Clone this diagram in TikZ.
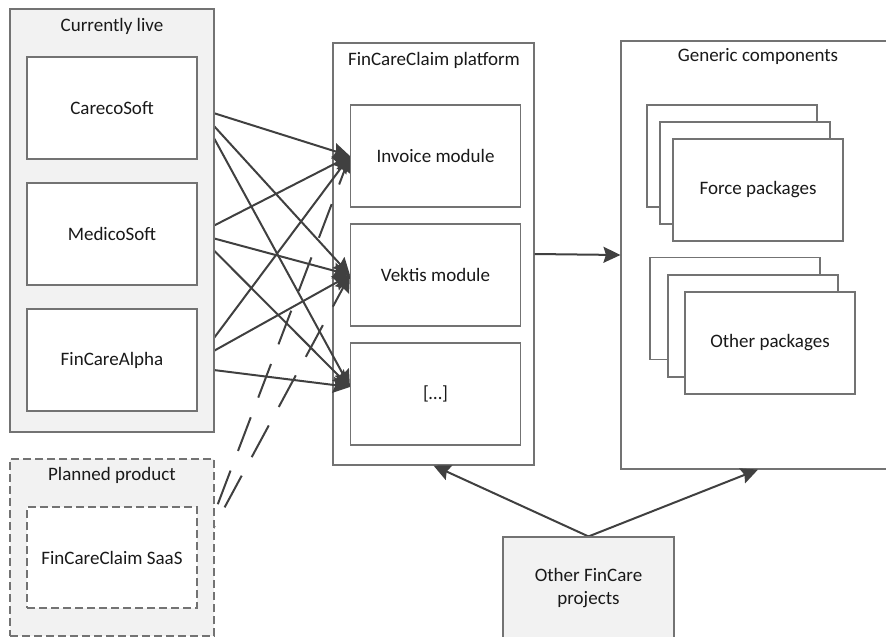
\documentclass[tikz,border=0pt]{standalone}
\usepackage{fontspec}
\setmainfont{Carlito}
\usetikzlibrary{arrows.meta,calc}
\definecolor{framegray}{HTML}{737373}
\definecolor{shade}{HTML}{F2F2F2}
\definecolor{wire}{HTML}{404040}
\pgfdeclarelayer{lower}
\pgfdeclarelayer{wires}
\pgfdeclarelayer{frames}
\pgfsetlayers{lower,wires,frames,main}

\begin{document}
\begin{tikzpicture}[x=1pt,y=-1pt,
  every node/.style={font=\fontsize{19}{23}\selectfont, text=black!90},
  card/.style={draw=framegray, line width=1.1pt, fill=white, inner sep=0pt,
    minimum width=170pt, minimum height=102pt, align=center},
  holder/.style={draw=framegray, line width=1.1pt, inner sep=0pt},
  dashedframe/.style={dash pattern=on 8pt off 4pt},
  link/.style={draw=wire, line width=2pt,
    -{Stealth[length=17pt,width=16pt,inset=2.5pt]}},
  planlink/.style={link, dash pattern=on 36pt off 21pt}
]
\useasboundingbox (0,0) rectangle (886,637);

% inner boxes
\node[card] (careco) at (112,108) {CarecoSoft};
\node[card] (medico) at (112,234) {MedicoSoft};
\node[card] (alpha)  at (112,360) {FinCareAlpha};
\node[card, dashedframe, minimum height=101pt] (saas) at (112,557.5) {FinCareClaim SaaS};

\node[card] (invoice) at (435.5,156) {Invoice module};
\node[card] (vektis)  at (435.5,275) {Vektis module};
\node[card] (more)    at (435.5,394) {[…]};

\node[card] (force1) at (732,156) {};
\node[card] (force2) at (745,173) {};
\node[card] (force3) at (758,190) {Force packages};

\node[card] (other1) at (735,308.5) {};
\node[card] (other2) at (753,326) {};
\node[card] (other3) at (770,343) {Other packages};

\node[card, fill=shade, minimum width=171pt] (otherfc) at (588.5,588) {Other FinCare\\projects};

% container titles
\node (liveTitle)     at (112,26)  {Currently live};
\node (plannedTitle)  at (112,475) {Planned product};
\node (platformTitle) at (434,60)  {FinCareClaim platform};
\node (genericTitle)  at (758,56)  {Generic components};

% shaded containers on the left
\begin{pgfonlayer}{frames}
\node[holder, fill=shade, minimum width=204pt, minimum height=423pt] (live) at (112,220.5) {};
\node[holder, fill=shade, dashedframe, minimum width=204pt, minimum height=177pt] (planned) at (112,547.5) {};
\end{pgfonlayer}

% white containers
\begin{pgfonlayer}{lower}
\node[holder, fill=white, minimum width=201pt, minimum height=422pt] (platform) at (433.5,254) {};
\node[holder, fill=white, minimum width=274pt, minimum height=428pt] (generic) at (758,255) {};
\end{pgfonlayer}

% connectors
\coordinate (moreIn) at ($(more.west)+(0,-7)$);
\coordinate (alphaLow) at ($(alpha.east)+(0,8)$);
\begin{pgfonlayer}{wires}
\draw[link] (careco.east) -- (invoice.west);
\draw[link] (careco.east) -- (vektis.west);
\draw[link] (careco.east) -- (moreIn);
\draw[link] (medico.east) -- (invoice.west);
\draw[link] (medico.east) -- (vektis.west);
\draw[link] (medico.east) -- (moreIn);
\draw[link] (alpha.east) -- (invoice.west);
\draw[link] (alpha.east) -- (vektis.west);
\draw[link] (alphaLow) -- (moreIn);
\draw[planlink] (saas.east) -- (invoice.west);
\draw[planlink] (saas.east) -- (vektis.west);
\draw[link] (platform.east) -- (generic.west);
\draw[link] (otherfc.north) -- (platform.south);
\draw[link] (otherfc.north) -- (generic.south);
\end{pgfonlayer}
\end{tikzpicture}
\end{document}
